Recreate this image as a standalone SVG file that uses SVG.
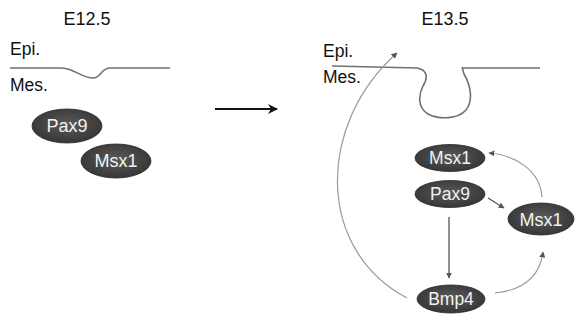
<svg xmlns="http://www.w3.org/2000/svg" width="575" height="324" viewBox="0 0 575 324">
<style>
.lbl{font-family:"Liberation Sans",Arial,sans-serif;fill:#111;}
.nt{font-family:"Liberation Sans",Arial,sans-serif;fill:#f2f2f2;text-anchor:middle;}
.node ellipse{fill:url(#g);stroke:#2a2a2a;stroke-width:0.8;}
.tissue{fill:none;stroke:#707070;stroke-width:1.6;}
.c{fill:none;stroke:#999;stroke-width:1.2;}
</style>
<defs>
<radialGradient id="g" cx="50%" cy="45%" r="60%">
<stop offset="0" stop-color="#5a5a5a"/>
<stop offset="1" stop-color="#333"/>
</radialGradient>
<marker id="ah" viewBox="0 0 10 10" refX="9" refY="5" markerWidth="6" markerHeight="6" orient="auto" markerUnits="userSpaceOnUse">
<path d="M0,0 L10,5 L0,10 z" fill="#555"/>
</marker>
<marker id="ahb" viewBox="0 0 10 10" refX="9" refY="5" markerWidth="10" markerHeight="10" orient="auto" markerUnits="userSpaceOnUse">
<path d="M0,0 L10,5 L0,10 L3,5 z" fill="#111"/>
</marker>
</defs>

<text class="lbl" x="87" y="25" font-size="18" text-anchor="middle">E12.5</text>
<text class="lbl" x="10" y="55" font-size="17.5">Epi.</text>
<text class="lbl" x="10" y="91" font-size="17.5">Mes.</text>
<path class="tissue" d="M10,68 L62,68 C75,69 82,78 93,78 C101,78 101,68 110,68 L170,68"/>

<text class="lbl" x="445" y="25" font-size="18" text-anchor="middle">E13.5</text>
<text class="lbl" x="323" y="57" font-size="17.5">Epi.</text>
<text class="lbl" x="323" y="83" font-size="17.5">Mes.</text>
<path class="tissue" d="M332,66 L417,68 C428,70 428,78 423,86 C418,96 418,108 428,114 C440,120 458,119 466,110 C474,100 470,84 464,74 L462,67 M463,68 L540,68"/>

<g id="connectors">
<line x1="215" y1="109" x2="277" y2="109" stroke="#111" stroke-width="2.2" marker-end="url(#ahb)"/>
<path class="c" d="M407,298 C316,250 316,125 397,53" marker-end="url(#ah)"/>
<line x1="449" y1="217" x2="449" y2="278" stroke="#555" stroke-width="1.3" marker-end="url(#ah)"/>
<line x1="488" y1="198" x2="504" y2="208" stroke="#555" stroke-width="1.2" marker-end="url(#ah)"/>
<path class="c" d="M542,197 C540,170 515,155 489,153" marker-end="url(#ah)"/>
<path class="c" d="M495,293 C525,290 540,275 543,252" marker-end="url(#ah)"/>
</g>

<g id="pax9-e12" class="node"><ellipse cx="67" cy="126" rx="35" ry="17"/><text class="nt" x="67" y="132" font-size="18">Pax9</text></g>
<g id="msx1-e12" class="node"><ellipse cx="116" cy="161" rx="35" ry="17"/><text class="nt" x="116" y="167" font-size="18">Msx1</text></g>

<g id="msx1-top" class="node"><ellipse cx="450" cy="158" rx="35" ry="13.5"/><text class="nt" x="450" y="164" font-size="17.5">Msx1</text></g>
<g id="pax9-e13" class="node"><ellipse cx="450" cy="194" rx="35" ry="13.5"/><text class="nt" x="450" y="200" font-size="17.5">Pax9</text></g>
<g id="msx1-right" class="node"><ellipse cx="541" cy="219" rx="33" ry="16"/><text class="nt" x="541" y="225.5" font-size="18">Msx1</text></g>
<g id="bmp4" class="node"><ellipse cx="451" cy="299" rx="34" ry="14"/><text class="nt" x="451" y="305" font-size="17.5">Bmp4</text></g>
</svg>
